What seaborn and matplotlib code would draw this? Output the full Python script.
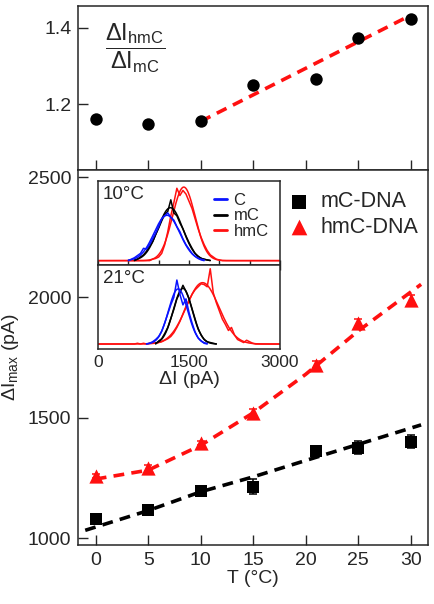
import numpy as np
import pandas as pd
import matplotlib
matplotlib.use("Agg")
import matplotlib.pyplot as plt
import seaborn as sns

sns.set_style("ticks")
plt.rcParams['font.family'] = ['Liberation Sans', 'DejaVu Sans']
plt.rcParams['mathtext.fontset'] = 'custom'
plt.rcParams['mathtext.rm'] = 'Liberation Sans'
plt.rcParams['mathtext.it'] = 'Liberation Sans:italic'
plt.rcParams['axes.linewidth'] = 1.1

# main data
T = [0, 5, 10, 15, 21, 25, 30]
ratio = [1.161, 1.148, 1.156, 1.249, 1.265, 1.373, 1.422]
mC = [1079, 1118, 1196, 1214, 1360, 1376, 1400]
mC_err = [14, 12, 12, 30, 12, 27, 27]
hmC = [1258, 1290, 1395, 1520, 1720, 1894, 1989]
hmC_err = [10, 12, 10, 15, 14, 14, 20]

# dashed model curves
fit_ratio_T = [10, 30]
fit_ratio = [1.155, 1.432]
fit_mC_T = [-1, 5, 10, 15, 20, 25, 31]
fit_mC = [1032, 1114, 1192, 1254, 1322, 1389, 1470]
fit_hmC_T = [0, 5, 10, 15, 20, 25, 31]
fit_hmC = [1245, 1282, 1385, 1520, 1680, 1860, 2054]

# inset histograms (normalised counts, 50 pA bins)
BIN = 50
h10_C_start = 500
h10_C = [0.00, 0.02, 0.04, 0.07, 0.10, 0.17, 0.16, 0.22, 0.30, 0.38, 0.47, 0.58, 0.62,
         0.66, 0.60, 0.56, 0.47, 0.40, 0.30, 0.22, 0.16, 0.10, 0.06, 0.03, 0.01, 0.00]
h10_mC_start = 600
h10_mC = [0.00, 0.02, 0.05, 0.08, 0.13, 0.20, 0.26, 0.36, 0.45, 0.55, 0.64, 0.68, 0.84,
          0.66, 0.62, 0.52, 0.44, 0.34, 0.25, 0.17, 0.10, 0.06, 0.03, 0.02, 0.01, 0.00]
h10_hmC_start = 850
h10_hmC = [0.00, 0.02, 0.03, 0.05, 0.10, 0.22, 0.40, 0.62, 0.80, 1.00, 0.90, 0.97, 0.92,
           0.82, 0.72, 0.58, 0.44, 0.32, 0.22, 0.14, 0.08, 0.05, 0.02, 0.01, 0.00]
h21_C_start = 800
h21_C = [0.00, 0.01, 0.03, 0.06, 0.10, 0.17, 0.28, 0.40, 0.52, 0.62, 0.85, 0.66, 0.52,
         0.60, 0.42, 0.28, 0.16, 0.08, 0.04, 0.01, 0.00]
h21_mC_start = 950
h21_mC = [0.00, 0.04, 0.07, 0.14, 0.22, 0.34, 0.46, 0.60, 0.68, 0.78, 0.70, 0.60, 0.46,
          0.32, 0.20, 0.12, 0.06, 0.03, 0.02, 0.01, 0.00]
h21_hmC_start = 600
h21_hmC = [0.00, 0.01, 0.00, 0.01, 0.00, 0.01, 0.02, 0.01, 0.02, 0.03, 0.05, 0.07, 0.10,
           0.15, 0.22, 0.30, 0.40, 0.50, 0.58, 0.66, 0.72, 0.76, 0.80, 0.79, 0.76, 1.00,
           0.68, 0.55, 0.44, 0.33, 0.26, 0.18, 0.22, 0.12, 0.06, 0.04, 0.02, 0.05, 0.03,
           0.01, 0.00]

BLUE = '#0a14ff'
RED = '#ff1010'
DASH = (0, (3.0, 2.0))


def hist_frame(start, vals, pad=False):
    df = pd.DataFrame({'I': start + BIN * np.arange(len(vals)), 'n': vals})
    if pad:
        full = pd.DataFrame({'I': np.arange(0, 3001, BIN)})
        df = full.merge(df, on='I', how='left').fillna(0.0)
    return df


def gauss_fit(df, pad=False):
    x, h = df['I'].to_numpy(float), df['n'].to_numpy(float)
    mu = np.sum(x * h) / np.sum(h)
    sd = np.sqrt(np.sum(h * (x - mu) ** 2) / np.sum(h))
    amp = np.sum(h) * BIN / (sd * np.sqrt(2 * np.pi))
    xs = np.linspace(0, 3000, 400) if pad else np.linspace(x.min(), x.max(), 200)
    return pd.DataFrame({'I': xs, 'n': amp * np.exp(-0.5 * ((xs - mu) / sd) ** 2)})


def draw_hists(a, series):
    for start, vals, color, label, pad in series:
        d = hist_frame(start, vals, pad)
        sns.lineplot(data=d, x='I', y='n', ax=a, color=color, lw=1.1, label=label)
        sns.lineplot(data=gauss_fit(d, pad), x='I', y='n', ax=a, color=color, lw=1.1)


fig = plt.figure(figsize=(4.35, 6.04), dpi=100)
ax_top = fig.add_axes([0.180, 0.7185, 0.803, 0.272])
ax = fig.add_axes([0.180, 0.0977, 0.803, 0.6208])
in1 = fig.add_axes([0.2253, 0.5613, 0.4184, 0.139])
in2 = fig.add_axes([0.2253, 0.4222, 0.4184, 0.1391])

xlim = (-1.66, 31.62)

# top panel: ratio
sns.lineplot(x=fit_ratio_T, y=fit_ratio, ax=ax_top, color=RED, lw=2.6,
             linestyle=DASH, zorder=2)
sns.scatterplot(x=T, y=ratio, ax=ax_top, color='black', s=80, marker='o',
                linewidth=0, zorder=3)
ax_top.set_xlim(xlim)
ax_top.set_ylim(1.028, 1.457)
ax_top.set_xticks([0, 5, 10, 15, 20, 25, 30])
ax_top.set_yticks([1.2, 1.4])
ax_top.tick_params(axis='x', direction='in', length=7.5, width=1, labelbottom=False)
ax_top.tick_params(axis='y', direction='in', length=7.5, width=1, labelsize=14, pad=5)
ax_top.text(0.162, 0.74, r'$\dfrac{\Delta\mathrm{I}_{\mathrm{hmC}}}{\Delta\mathrm{I}_{\mathrm{mC}}}$',
            transform=ax_top.transAxes, ha='center', va='center', fontsize=17)

# lower panel
sns.lineplot(x=fit_mC_T, y=fit_mC, ax=ax, color='black', lw=2.6, linestyle=DASH, zorder=2)
sns.lineplot(x=fit_hmC_T, y=fit_hmC, ax=ax, color=RED, lw=2.6, linestyle=DASH, zorder=2)
ax.errorbar(T, mC, yerr=mC_err, fmt='none', ecolor='black', elinewidth=1.1,
            capsize=3, capthick=1.1, zorder=3)
ax.errorbar(T, hmC, yerr=hmC_err, fmt='none', ecolor=RED, elinewidth=1.1,
            capsize=3, capthick=1.1, zorder=3)
sns.scatterplot(x=T, y=mC, ax=ax, color='black', marker='s', s=75, linewidth=0,
                label='mC-DNA', zorder=4)
sns.scatterplot(x=T, y=hmC, ax=ax, color=RED, marker='^', s=105, linewidth=0,
                label='hmC-DNA', zorder=4)
ax.set_xlim(xlim)
ax.set_ylim(971, 2529)
ax.set_xticks([0, 5, 10, 15, 20, 25, 30])
ax.set_yticks([1000, 1500, 2000, 2500])
ax.tick_params(direction='in', length=7.5, width=1, labelsize=14, pad=5)
ax.set_xlabel('T (°C)', fontsize=14, labelpad=1)
ax.set_ylabel(r'ΔI$_{\mathrm{max}}$ (pA)', fontsize=14, labelpad=5)
ax.legend(loc='upper right', bbox_to_anchor=(1.03, 0.995), frameon=False, fontsize=15.5,
          handletextpad=0.0, labelspacing=0.2, markerscale=1.1)

# inset 10 C
draw_hists(in1, [(h10_hmC_start, h10_hmC, RED, 'hmC', True),
                 (h10_mC_start, h10_mC, 'black', 'mC', False),
                 (h10_C_start, h10_C, BLUE, 'C', False)])
in1.set_xlim(0, 3000)
in1.set_ylim(-0.06, 1.1)
in1.set_xticks(np.arange(0, 3001, 500))
in1.set_yticks([])
in1.set_xlabel('')
in1.set_ylabel('')
in1.tick_params(axis='x', direction='inout', length=7, width=1, labelbottom=False)
in1.text(0.025, 0.94, '10°C', transform=in1.transAxes, ha='left', va='top', fontsize=13.5)
h, l = in1.get_legend_handles_labels()
in1.legend(h[::-1], l[::-1], loc='upper right', bbox_to_anchor=(1.02, 1.04), frameon=False,
           fontsize=12, handlelength=0.8, handletextpad=0.4, labelspacing=0.05)
for line in in1.get_legend().get_lines():
    line.set_linewidth(2)

# inset 21 C
draw_hists(in2, [(h21_hmC_start, h21_hmC, RED, None, True),
                 (h21_mC_start, h21_mC, 'black', None, False),
                 (h21_C_start, h21_C, BLUE, None, False)])
in2.set_xlim(0, 3000)
in2.set_ylim(-0.066, 1.05)
in2.set_xticks([0, 1500, 3000])
in2.set_yticks([])
in2.set_ylabel('')
in2.tick_params(axis='x', length=0, labelsize=12.5, pad=4)
in2.set_xlabel('ΔI (pA)', fontsize=14, labelpad=1)
in2.text(0.025, 0.94, '21°C', transform=in2.transAxes, ha='left', va='top', fontsize=13.5)
if in2.get_legend() is not None:
    in2.get_legend().remove()

for a in (ax_top, ax, in1, in2):
    for s in a.spines.values():
        s.set_visible(True)
        s.set_linewidth(1.1)

fig.savefig('out.png', dpi=100)
